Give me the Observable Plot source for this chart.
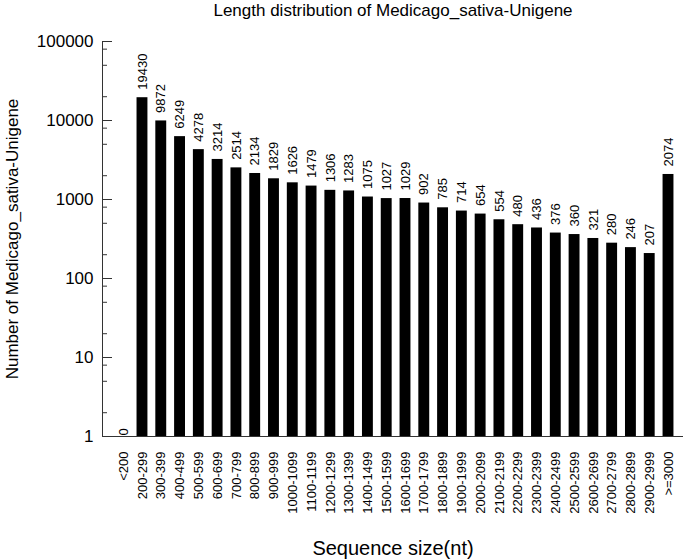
<!DOCTYPE html>
<html>
<head>
<meta charset="utf-8">
<script src="https://cdn.jsdelivr.net/npm/d3@7"></script>
<script src="https://cdn.jsdelivr.net/npm/@observablehq/plot@0.6"></script>
<style>
  html, body { margin: 0; padding: 0; background: #fff; }
</style>
</head>
<body>
<div id="chart"></div>
<script>
const categories = ["<200","200-299","300-399","400-499","500-599","600-699","700-799","800-899","900-999",
  "1000-1099","1100-1199","1200-1299","1300-1399","1400-1499","1500-1599","1600-1699","1700-1799",
  "1800-1899","1900-1999","2000-2099","2100-2199","2200-2299","2300-2399","2400-2499","2500-2599",
  "2600-2699","2700-2799","2800-2899","2900-2999",">=3000"];
const counts = [0,19430,9872,6249,4278,3214,2514,2134,1829,1626,1479,1306,1283,1075,1027,1029,902,
  785,714,654,554,480,436,376,360,321,280,246,207,2074];
const majorTicks = [1,10,100,1000,10000,100000];
const minorTicks = [2,5,8,20,50,80,200,500,800,2000,5000,8000,20000,50000,80000];
const titleText = "Length distribution of Medicago_sativa-Unigene";
const yLabel = "Number of Medicago_sativa-Unigene";
const xLabel = "Sequence size(nt)";

const data = categories.map((c, i) => ({cat: c, n: counts[i]}));
const W = 685, H = 560, mL = 102, mR = 2, mT = 41, mB = 124;
const plotW = W - mL - mR;
const axisColor = "#333";

const chart = Plot.plot({
  width: W, height: H,
  marginLeft: mL, marginRight: mR, marginTop: mT, marginBottom: mB,
  style: {fontFamily: "'Liberation Sans', Arial, sans-serif", background: "#fff", color: "#000"},
  x: {type: "band", domain: categories, range: [113.8, 677.4], paddingInner: 0.42, paddingOuter: 0.21, round: false},
  y: {type: "log", domain: [1, 100000]},
  marks: [
    Plot.barY(data.filter(d => d.n > 0), {x: "cat", y1: () => 1, y2: "n", fill: "#000"}),
    Plot.text(data.filter(d => d.n > 0), {x: "cat", y: "n", text: d => String(d.n), rotate: -90,
      textAnchor: "start", dy: -8, fontSize: 13, fill: "#000"}),
    Plot.text(data.filter(d => d.n === 0), {x: "cat", y: () => 1, text: d => String(d.n), rotate: -90,
      textAnchor: "start", dy: -1, fontSize: 13, fill: "#000"}),
    Plot.tickY(majorTicks, {y: d => d, insetRight: plotW - 10, stroke: axisColor}),
    Plot.tickY(minorTicks, {y: d => d, insetRight: plotW - 5, stroke: axisColor}),
    Plot.frame({anchor: "left", stroke: axisColor}),
    Plot.ruleY([1], {stroke: axisColor}),
    Plot.axisY({ticks: majorTicks, tickSize: 0, tickPadding: 9, tickFormat: d => String(d),
      fontSize: 17, label: null}),
    Plot.axisX({tickRotate: -90, tickSize: 0, tickPadding: 15, fontSize: 13, label: null}),
    Plot.text([titleText], {frameAnchor: "top", textAnchor: "middle", lineAnchor: "middle", dy: -31, fontSize: 17, fill: "#000"}),
    Plot.text([yLabel], {frameAnchor: "left", textAnchor: "middle", lineAnchor: "middle", dx: -90, rotate: -90, fontSize: 17, fill: "#000"}),
    Plot.text([xLabel], {frameAnchor: "bottom", textAnchor: "middle", lineAnchor: "middle", dy: 112, fontSize: 20, fill: "#000"})
  ]
});
document.getElementById("chart").appendChild(chart);
</script>
</body>
</html>
